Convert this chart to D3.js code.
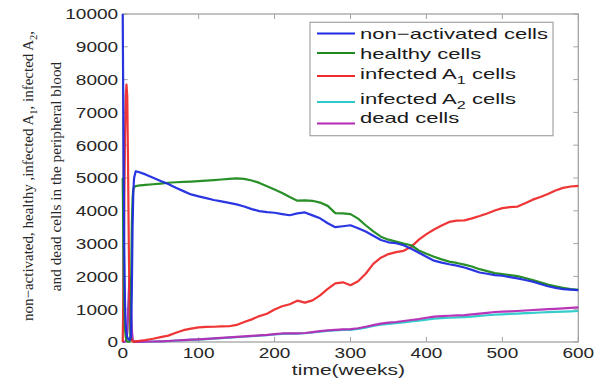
<!DOCTYPE html>
<html>
<head>
<meta charset="utf-8">
<script src="https://cdn.jsdelivr.net/npm/d3@7"></script>
<style>
  html, body { margin: 0; padding: 0; background: #fff; }
  svg { display: block; }
</style>
</head>
<body>
<svg id="chart" width="605" height="383"></svg>
<script>
// ---------- DATA ----------
const weeks = [0,1,2,3,4,5,6,7,8,9,10,11,12,13,14,15,17,
  20,30,40,50,60,70,80,90,100,110,120,130,140,150,160,170,180,190,200,
  210,220,230,240,250,260,270,280,290,300,310,320,330,340,350,360,370,380,390,400,
  410,420,430,440,450,460,470,480,490,500,510,520,530,540,550,560,570,580,590,600];

const nonActivated = [10000,6500,3000,1200,500,250,150,100,80,70,80,200,1500,3500,4600,5000,5200,
  5190,5110,5010,4910,4820,4700,4600,4500,4440,4385,4330,4285,4240,4195,4130,4050,3990,3960,3940,
  3900,3865,3920,3950,3860,3770,3620,3500,3530,3560,3470,3370,3240,3110,3040,3010,2950,2840,2720,2600,
  2480,2420,2370,2330,2270,2200,2120,2080,2040,2020,1980,1940,1890,1840,1770,1700,1650,1610,1595,1580];

const healthy = [5000,3000,1200,400,150,50,20,10,10,10,100,1500,3500,4400,4650,4720,4750,
  4765,4790,4810,4830,4855,4870,4880,4890,4905,4918,4935,4955,4975,4990,4975,4925,4850,4750,4650,
  4545,4420,4310,4320,4305,4250,4150,3930,3920,3900,3760,3560,3370,3210,3120,3060,3000,2950,2790,2690,
  2600,2520,2450,2410,2360,2300,2220,2160,2100,2070,2040,2010,1950,1890,1820,1750,1700,1650,1610,1590];

const infectedA1 = [0,1500,4000,6200,7500,7850,7500,5500,3000,1200,400,150,60,20,10,10,20,
  30,60,100,150,195,280,360,410,445,460,465,475,480,520,610,690,790,860,990,
  1090,1150,1260,1200,1270,1420,1620,1790,1820,1730,1850,2080,2380,2570,2680,2740,2780,2900,3120,3290,
  3430,3550,3660,3700,3710,3770,3840,3920,4010,4080,4110,4130,4230,4340,4420,4510,4620,4700,4740,4760];

const infectedA2 = [0,0,5,10,30,100,300,700,1200,1500,1300,700,250,80,25,10,5,
  5,8,12,18,26,40,55,65,75,88,102,118,132,146,160,176,192,206,228,
  248,255,256,266,290,318,340,355,368,372,400,440,490,530,555,575,600,625,650,680,
  710,725,740,750,760,775,795,815,835,845,855,865,878,890,900,910,918,928,935,945];

const dead = [0,0,5,10,30,100,300,800,1500,2000,1800,1000,400,100,30,10,5,
  5,10,15,20,30,45,60,70,80,95,110,125,140,155,170,185,200,215,240,
  260,265,265,275,300,330,355,370,385,390,420,465,515,560,590,610,640,670,700,740,
  775,790,800,810,820,840,865,890,915,925,935,945,960,975,990,1000,1010,1025,1040,1055];

const seriesNames = ["non\u2212activated cells", "healthy cells", "infected A|1| cells", "infected A|2| cells", "dead cells"];
const seriesColors = ["#1f2be0", "#1e8a1e", "#ee2a2a", "#2ccaca", "#b52ab5"];
const seriesValues = [nonActivated, healthy, infectedA1, infectedA2, dead];
const drawOrder = [3, 4, 2, 1, 0];

const xTicks = [0,100,200,300,400,500,600];
const yTicks = [0,1000,2000,3000,4000,5000,6000,7000,8000,9000,10000];
const xLabel = "time(weeks)";
const yLabelLine1 = ["non\u2212activated, healthy ,infected A", "1", ", infected A", "2", ","];
const yLabelLine2 = "and dead cells in the peripheral blood";

// ---------- LAYOUT ----------
const svg = d3.select("#chart");
const L = 122.7, R = 578.3, T = 14, B = 342;
const x = d3.scaleLinear().domain([0, 600]).range([L, R]);
const y = d3.scaleLinear().domain([0, 10000]).range([B, T]);
const axisColor = "#a3a3a3";
const textColor = "#262626";
const sx = 1.36;

svg.append("defs").append("clipPath").attr("id", "plotclip")
  .append("rect").attr("x", L - 2).attr("y", T - 2).attr("width", R - L + 4).attr("height", B - T + 3);

const frame = svg.append("g");
frame.append("rect").attr("x", L).attr("y", T).attr("width", R - L).attr("height", B - T)
  .attr("fill", "none").attr("stroke", axisColor).attr("stroke-width", 1.3);

const tl = 5;
xTicks.forEach(t => {
  frame.append("line").attr("x1", x(t)).attr("x2", x(t)).attr("y1", B).attr("y2", B - tl).attr("stroke", axisColor);
  frame.append("line").attr("x1", x(t)).attr("x2", x(t)).attr("y1", T).attr("y2", T + tl).attr("stroke", axisColor);
});
yTicks.forEach(v => {
  frame.append("line").attr("x1", L).attr("x2", L + tl).attr("y1", y(v)).attr("y2", y(v)).attr("stroke", axisColor);
  frame.append("line").attr("x1", R).attr("x2", R - tl).attr("y1", y(v)).attr("y2", y(v)).attr("stroke", axisColor);
});

const fontSans = "Liberation Sans, Arial, sans-serif";
xTicks.forEach(t => {
  svg.append("text")
    .attr("transform", `translate(${x(t)},${B + 16}) scale(${sx},1)`)
    .attr("text-anchor", "middle").attr("font-family", fontSans).attr("font-size", 14)
    .attr("fill", textColor).text(t);
});
yTicks.forEach(v => {
  svg.append("text")
    .attr("transform", `translate(${L - 4.5},${y(v) + 5.3}) scale(${sx},1)`)
    .attr("text-anchor", "end").attr("font-family", fontSans).attr("font-size", 14)
    .attr("fill", textColor).text(v);
});

svg.append("text")
  .attr("transform", `translate(${(L + R) / 2 - 2},375) scale(1.45,1)`)
  .attr("text-anchor", "middle").attr("font-family", fontSans).attr("font-size", 14.5)
  .attr("fill", textColor).text(xLabel);

const fontSerif = "Liberation Serif, Times New Roman, serif";
const yl1 = svg.append("text")
  .attr("transform", "translate(33,176) rotate(-90)")
  .attr("text-anchor", "middle").attr("font-family", fontSerif).attr("font-size", 15)
  .attr("fill", textColor);
yLabelLine1.forEach((s, i) => {
  const sub = i % 2 === 1;
  yl1.append("tspan").attr("dy", sub ? 4 : (i === 0 ? 0 : -4))
    .attr("font-size", sub ? 10.5 : 15).text(s);
});
svg.append("text")
  .attr("transform", "translate(61,176.5) rotate(-90)")
  .attr("text-anchor", "middle").attr("font-family", fontSerif).attr("font-size", 15.3)
  .attr("fill", textColor).text(yLabelLine2);

const plot = svg.append("g").attr("clip-path", "url(#plotclip)");
const line = d3.line().x((d, i) => x(weeks[i])).y(d => y(d)).curve(d3.curveLinear);
drawOrder.forEach(k => {
  plot.append("path").datum(seriesValues[k])
    .attr("d", line).attr("fill", "none").attr("stroke", seriesColors[k])
    .attr("stroke-width", 2.2).attr("stroke-linejoin", "round").attr("opacity", 0.95);
});

const lg = svg.append("g");
lg.append("rect").attr("x", 310).attr("y", 22.3).attr("width", 243).attr("height", 113.4)
  .attr("fill", "#fff").attr("stroke", axisColor).attr("stroke-width", 1.2);
const lineYs = [33.5, 53, 76, 102, 123.5];
const textYs = [38.7, 59.2, 78.6, 104.2, 122.5];
seriesNames.forEach((name, i) => {
  lg.append("line").attr("x1", 317).attr("x2", 355).attr("y1", lineYs[i]).attr("y2", lineYs[i])
    .attr("stroke", seriesColors[i]).attr("stroke-width", 2.2);
  const t = lg.append("text")
    .attr("transform", `translate(360,${textYs[i]}) scale(1.47,1)`)
    .attr("font-family", fontSans).attr("font-size", 15).attr("fill", "#1a1a1a");
  const parts = name.split("|");
  parts.forEach((p, j) => {
    const sub = j % 2 === 1;
    t.append("tspan").attr("dy", sub ? 5 : (j === 0 ? 0 : -5))
      .attr("font-size", sub ? 11 : 15).text(p);
  });
});
</script>
</body>
</html>
